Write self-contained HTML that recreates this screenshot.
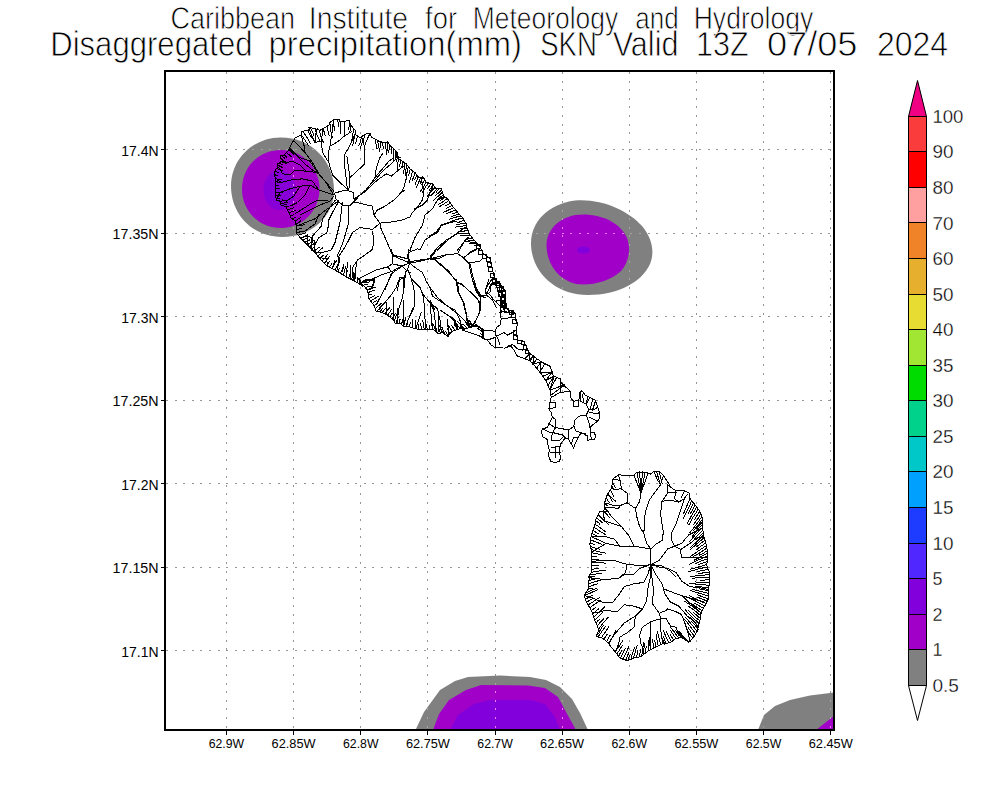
<!DOCTYPE html>
<html lang="en">
<head>
<meta charset="utf-8">
<title>Disaggregated precipitation(mm) SKN</title>
<style>
html,body{margin:0;padding:0;background:#fff;}
body{width:1000px;height:800px;overflow:hidden;}
svg{display:block;}
text{font-family:"Liberation Sans",sans-serif;fill:#000;}
.thin{stroke:#fff;stroke-width:0.8px;paint-order:fill stroke;}
.thin2{stroke:#fff;stroke-width:0.3px;paint-order:fill stroke;}
.isl{fill:none;stroke:#000;stroke-width:1;stroke-linejoin:miter;stroke-linecap:square;shape-rendering:crispEdges;}
.grid{stroke:#969696;stroke-width:1;stroke-dasharray:2 6.6;fill:none;shape-rendering:crispEdges;}
</style>
</head>
<body>
<svg width="1000" height="800" viewBox="0 0 1000 800">
<rect x="0" y="0" width="1000" height="800" fill="#fff"/>
<g id="shade">
<path fill="#808080" d="M231 186 C231 160 252 138 280 137.5 C310 137 334 160 334 190 C334 216 312 237 282 237 C252 237 231 214 231 186Z"/>
<path fill="#808080" d="M531 243 C531 222 548 204 575 200.5 C600 198 628 210 642 226 C652 238 655 252 650 264 C642 282 618 295 588 295 C555 295 531 272 531 243Z"/>
<path fill="#808080" d="M415.5 730 L424 712 L440 690 L455 681 L468 677 L500 675.5 L530 677 L546 680 L560 687 L572 699 L580 713 L588 730Z"/>
<path fill="#808080" d="M758 730 L764 715 L775 706 L790 700 L810 695.5 L834 692.5 L834 730Z"/>
<path fill="#a000c8" d="M242 189 C242 166 260 150 281 150 C302 150 319.5 167 319.5 189 C319.5 211 302 228 281 228 C259 228 242 211 242 189Z"/>
<path fill="#a000c8" d="M546.5 245 C546.5 228 562 214.5 583 214.5 C604 214.5 621 224 627 238 C631 249 629 262 621 271 C611 280 597 284.5 583 284.5 C562 284.5 546.5 266 546.5 245Z"/>
<path fill="#a000c8" d="M433 730 L439 714 L449 700 L466 690 L481 685 L528 685.5 L545 688 L558 697 L566 712 L576 730Z"/>
<path fill="#a000c8" d="M816 730 L834 716 L834 730Z"/>
<path fill="#8200dc" d="M450 730 L458 715 L474 704 L490 700 L530 700 L545 704 L555 717 L560 730Z"/>
<ellipse cx="279.5" cy="190" rx="16" ry="20" fill="#8200dc" opacity="0.8"/>
<ellipse cx="583.5" cy="250" rx="6.5" ry="3.5" fill="#8200dc"/>
</g>
<defs><clipPath id="cg"><path d="M231 186 C231 160 252 138 280 137.5 C310 137 334 160 334 190 C334 216 312 237 282 237 C252 237 231 214 231 186Z"/><path d="M531 243 C531 222 548 204 575 200.5 C600 198 628 210 642 226 C652 238 655 252 650 264 C642 282 618 295 588 295 C555 295 531 272 531 243Z"/><path d="M415.5 730 L424 712 L440 690 L455 681 L468 677 L500 675.5 L530 677 L546 680 L560 687 L572 699 L580 713 L588 730Z"/><path d="M758 730 L764 715 L775 706 L790 700 L810 695.5 L834 692.5 L834 730Z"/></clipPath><clipPath id="cp"><path d="M242 189 C242 166 260 150 281 150 C302 150 319.5 167 319.5 189 C319.5 211 302 228 281 228 C259 228 242 211 242 189Z"/><path d="M546.5 245 C546.5 228 562 214.5 583 214.5 C604 214.5 621 224 627 238 C631 249 629 262 621 271 C611 280 597 284.5 583 284.5 C562 284.5 546.5 266 546.5 245Z"/><path d="M433 730 L439 714 L449 700 L466 690 L481 685 L528 685.5 L545 688 L558 697 L566 712 L576 730Z"/><path d="M816 730 L834 716 L834 730Z"/></clipPath></defs>
<g id="grid" class="grid">
<line x1="830.5" y1="72.0" x2="830.5" y2="729.0"/>
<line x1="763.5" y1="72.0" x2="763.5" y2="729.0"/>
<line x1="696.5" y1="72.0" x2="696.5" y2="729.0"/>
<line x1="629.5" y1="72.0" x2="629.5" y2="729.0"/>
<line x1="562.5" y1="72.0" x2="562.5" y2="729.0"/>
<line x1="495.5" y1="72.0" x2="495.5" y2="729.0"/>
<line x1="427.5" y1="72.0" x2="427.5" y2="729.0"/>
<line x1="360.5" y1="72.0" x2="360.5" y2="729.0"/>
<line x1="293.5" y1="72.0" x2="293.5" y2="729.0"/>
<line x1="226.5" y1="72.0" x2="226.5" y2="729.0"/>
<line x1="166.0" y1="149.5" x2="833.0" y2="149.5"/>
<line x1="166.0" y1="233.5" x2="833.0" y2="233.5"/>
<line x1="166.0" y1="316.5" x2="833.0" y2="316.5"/>
<line x1="166.0" y1="400.5" x2="833.0" y2="400.5"/>
<line x1="166.0" y1="483.5" x2="833.0" y2="483.5"/>
<line x1="166.0" y1="567.5" x2="833.0" y2="567.5"/>
<line x1="166.0" y1="650.5" x2="833.0" y2="650.5"/>
</g>
<g class="grid" style="stroke:#a4a4a4" clip-path="url(#cg)">
<line x1="629.5" y1="72.0" x2="629.5" y2="729.0"/>
<line x1="562.5" y1="72.0" x2="562.5" y2="729.0"/>
<line x1="495.5" y1="72.0" x2="495.5" y2="729.0"/>
<line x1="427.5" y1="72.0" x2="427.5" y2="729.0"/>
<line x1="293.5" y1="72.0" x2="293.5" y2="729.0"/>
<line x1="830.5" y1="72.0" x2="830.5" y2="729.0"/>
<line x1="166.0" y1="149.5" x2="833.0" y2="149.5"/>
<line x1="166.0" y1="233.5" x2="833.0" y2="233.5"/>
</g>
<g class="grid" style="stroke:#f07cff" clip-path="url(#cp)">
<line x1="629.5" y1="72.0" x2="629.5" y2="729.0"/>
<line x1="562.5" y1="72.0" x2="562.5" y2="729.0"/>
<line x1="495.5" y1="72.0" x2="495.5" y2="729.0"/>
<line x1="427.5" y1="72.0" x2="427.5" y2="729.0"/>
<line x1="293.5" y1="72.0" x2="293.5" y2="729.0"/>
<line x1="830.5" y1="72.0" x2="830.5" y2="729.0"/>
<line x1="166.0" y1="149.5" x2="833.0" y2="149.5"/>
<line x1="166.0" y1="233.5" x2="833.0" y2="233.5"/>
</g>
<g id="islands" class="isl">
<path d="M289.5 148.0 L293.5 140.5 L295.5 137.5 L301.5 135.0 L302.0 131.5 L308.5 130.0 L309.5 127.5 L314.5 128.5 L320.0 130.5 L322.0 129.0 L326.0 127.0 L329.0 125.0 L330.0 122.5 L334.0 119.5 L339.5 119.5 L340.0 122.0 L346.0 121.0 L349.5 120.5 L350.5 125.0 L355.0 130.0 L356.0 135.0 L360.0 137.5 L361.2 136.9 L366.2 133.8 L370.6 133.8 L371.2 137.5 L375.0 138.8 L378.8 141.2 L385.0 143.1 L387.5 141.9 L390.0 145.6 L393.8 148.8 L396.9 151.9 L398.8 158.8 L406.2 163.8 L410.0 168.8 L415.0 172.5 L418.8 177.5 L423.1 176.9 L426.2 182.5 L432.5 183.8 L436.2 188.8 L441.2 188.1 L443.8 196.2 L447.5 198.8 L452.5 206.2 L458.8 213.8 L462.5 217.5 L466.2 223.8 L467.5 230.0 L470.0 235.0 L475.0 241.2 L480.0 246.2 L482.5 252.5 L490.0 258.8 L491.2 265.0 L493.8 275.0 L496.2 281.2 L502.5 286.2 L505.0 291.2 L505.0 300.0 L503.8 310.0 L495.0 280.0 L500.0 285.0 L505.0 291.2 L505.0 302.5 L506.2 308.8 L515.0 312.5 L515.6 320.0 L517.5 322.5 L516.2 332.5 L517.5 340.0 L523.8 341.2 L526.2 346.2 L528.8 352.5 L535.0 357.5 L542.5 362.5 L550.0 366.2 L552.5 372.5 L553.8 380.0 L553.8 376.2 L560.0 378.8 L561.2 382.5 L566.2 387.5 L570.0 391.2 L571.2 398.8 L573.8 401.2 L578.8 400.0 L580.0 392.5 L581.9 390.6 L585.0 395.0 L590.0 397.5 L595.0 400.0 L597.5 406.2 L599.4 412.5 L600.0 417.5 L597.5 421.2 L592.5 425.0 L590.0 427.5 L589.8 426.1 L590.7 432.4 L594.3 432.9 L595.7 436.0 L594.3 439.6 L588.0 440.1 L587.1 436.0 L582.6 433.3 L579.9 434.2 L578.1 437.8 L575.4 443.2 L573.6 447.7 L570.9 443.2 L568.2 438.7 L564.6 438.7 L561.9 442.3 L560.1 445.0 L559.7 454.0 L561.0 457.6 L559.2 461.2 L554.7 462.6 L550.7 461.2 L548.4 455.8 L549.3 450.4 L548.0 445.0 L547.5 439.6 L543.0 436.9 L541.2 431.5 L542.5 428.8 L547.5 427.5 L548.8 423.8 L552.5 417.5 L551.2 412.5 L548.8 408.8 L550.0 402.5 L551.2 397.5 L550.0 390.0 L546.2 381.2 L541.2 373.8 L535.0 366.2 L528.8 360.0 L530.0 360.6 L525.0 358.8 L517.5 356.2 L513.8 350.0 L510.0 345.0 L505.0 348.1 L495.0 347.5 L491.2 345.0 L487.5 340.0 L481.9 338.1 L482.5 335.0 L481.2 328.1 L475.0 326.2 L467.5 328.1 L462.5 330.0 L483.8 337.5 L482.5 330.0 L478.8 326.2 L472.5 325.6 L467.5 328.1 L460.0 328.8 L452.5 331.2 L447.5 336.2 L442.5 332.5 L437.5 333.8 L433.8 330.0 L427.5 329.4 L421.2 329.4 L415.0 328.8 L410.0 326.9 L403.8 326.2 L400.0 323.1 L395.0 323.1 L393.8 320.0 L388.8 316.2 L382.5 312.5 L376.2 311.2 L373.8 305.0 L368.8 298.8 L367.5 290.0 L361.2 283.1 L362.5 286.2 L355.0 281.2 L345.0 276.2 L335.0 270.0 L327.5 266.2 L320.0 258.8 L313.8 251.2 L307.5 245.0 L301.2 238.8 L296.9 233.8 L296.2 226.2 L296.5 226.3 L295.0 220.8 L291.0 218.0 L289.0 212.5 L285.5 206.3 L280.7 205.0 L280.0 201.5 L276.6 200.0 L275.2 194.6 L275.5 187.0 L276.0 183.0 L275.0 177.0 L274.5 172.5 L275.5 169.5 L278.0 167.0 L277.5 164.0 L279.5 163.0 L283.0 160.0 L280.5 158.0 L281.0 155.0 L284.0 155.0 L289.0 150.0 L289.5 148.0"/>
<path d="M334.4 193.1 L346.2 190.0 L353.1 192.5 L354.4 201.2 L350.0 205.6 L342.5 205.0 L336.2 199.4 L334.4 193.1"/>
<path d="M588.5 577.0 L592.0 571.4 L591.3 561.6 L592.0 551.8 L589.9 544.8 L591.3 535.0 L594.8 525.2 L596.2 518.2 L599.7 511.9 L603.9 511.2 L604.6 502.8 L607.4 494.4 L611.6 488.1 L613.0 479.0 L618.6 474.8 L625.6 475.5 L634.0 475.5 L636.8 472.0 L645.2 472.0 L650.8 474.1 L653.6 471.3 L659.2 471.3 L663.4 475.5 L667.6 481.8 L671.1 487.4 L676.0 490.9 L684.4 490.9 L689.3 493.0 L690.0 498.6 L695.6 505.6 L699.8 511.2 L702.6 518.2 L702.6 528.0 L704.0 537.8 L706.8 546.2 L707.5 556.0 L706.8 565.8 L709.6 572.8 L709.6 576.8 L708.9 588.0 L708.9 597.8 L705.4 604.8 L701.2 611.8 L699.8 621.6 L697.0 631.4 L692.8 638.4 L688.6 641.9 L681.6 637.7 L676.0 638.4 L670.4 642.6 L662.0 644.0 L656.4 646.8 L648.0 651.0 L641.0 656.6 L634.0 658.0 L627.0 660.8 L620.0 658.0 L614.4 651.0 L608.8 644.0 L603.2 638.4 L596.2 636.3 L599.0 630.0 L594.8 620.2 L592.0 611.8 L586.4 602.0 L584.3 595.7 L588.5 588.0 L589.2 576.8 L588.5 577.0"/>
<path d="M354.1 201.9 L372.5 206.2 L373.8 215.0 L380.0 223.1"/>
<path d="M380.0 223.1 L392.5 221.9 L402.5 220.0 L410.0 216.9"/>
<path d="M380.0 223.1 L372.5 229.4 L368.8 228.8 L360.0 227.5 L352.5 232.5 L347.5 242.5 L343.8 248.8 L338.8 256.2 L340.0 262.5"/>
<path d="M372.5 231.2 L373.8 240.0 L372.5 249.4 L365.0 255.0 L357.5 260.0 L352.5 267.5 L353.8 280.0"/>
<path d="M380.0 223.1 L380.0 226.2 L385.0 237.5 L388.8 246.2 L392.5 255.0 L402.5 257.5 L410.0 259.4"/>
<path d="M392.5 255.0 L392.5 263.8 L387.5 266.9 L376.2 270.0 L366.2 275.0 L358.8 278.8 L360.0 283.8"/>
<path d="M373.8 215.0 L377.5 210.0 L385.0 206.2 L393.8 200.0 L401.2 192.5 L405.0 190.0"/>
<path d="M354.1 201.9 L360.0 195.0 L365.0 190.0"/>
<path d="M348.8 206.2 L348.8 222.5 L346.2 231.2 L343.8 240.0 L340.0 250.0 L337.5 255.0 L338.8 260.0"/>
<path d="M342.5 202.5 L341.2 212.5 L340.0 222.5 L337.5 232.5 L335.0 242.5 L331.2 250.0 L322.5 252.5 L315.0 251.9"/>
<path d="M338.8 201.2 L332.5 212.5 L328.8 220.0 L327.5 232.5 L318.8 237.5 L315.0 245.0 L314.4 251.2"/>
<path d="M335.0 200.6 L328.8 208.8 L322.5 218.8 L321.2 226.2 L312.5 236.2 L311.9 245.0"/>
<path d="M296.2 226.2 L315.0 218.8 L322.5 212.5 L331.2 206.2 L338.8 200.6"/>
<path d="M296.9 232.5 L305.0 231.2 L315.0 223.8 L318.8 215.0"/>
<path d="M301.2 238.8 L303.8 236.9 L307.5 236.2 L311.9 237.5 L311.9 250.0"/>
<path d="M307.5 236.2 L308.1 245.0"/>
<path d="M311.9 240.0 L315.0 241.2 L314.4 251.2"/>
<path d="M322.5 258.8 L326.2 258.1 L327.5 265.0"/>
<path d="M335.0 260.0 L332.5 268.1"/>
<path d="M338.8 260.0 L337.5 270.0"/>
<path d="M343.8 265.0 L342.5 271.2"/>
<path d="M347.5 262.5 L346.2 276.2"/>
<path d="M350.0 265.0 L350.0 278.1"/>
<path d="M356.9 261.2 L353.8 280.0"/>
<path d="M315.0 251.9 L320.0 258.8"/>
<path d="M360.0 283.8 L365.0 280.0 L375.0 279.4 L372.5 285.0 L370.0 290.0"/>
<path d="M387.5 266.9 L392.5 272.5 L388.8 280.0 L385.0 290.0"/>
<path d="M392.5 263.8 L402.5 266.2 L406.2 270.0 L405.0 277.5 L403.8 290.0"/>
<path d="M406.2 270.0 L410.0 272.5"/>
<path d="M397.5 290.0 L400.0 277.5 L405.0 277.5"/>
<path d="M410.0 263.1 L401.2 266.2 L392.5 271.2 L381.2 275.0 L370.0 280.0 L361.2 283.1"/>
<path d="M410.0 263.1 L393.8 256.2 L391.2 250.0"/>
<path d="M410.0 263.1 L407.5 256.2 L408.8 250.0"/>
<path d="M410.0 263.1 L420.0 261.2 L430.0 258.8 L447.5 254.4 L457.5 253.8 L463.8 257.5 L470.0 263.8 L472.5 275.0 L476.2 287.5 L481.2 296.2 L485.0 297.5"/>
<path d="M410.0 263.1 L415.0 267.5 L422.5 272.5 L426.2 281.2 L430.0 287.5 L432.5 296.2 L440.0 301.2 L450.0 307.5 L458.8 315.0 L466.2 322.5 L468.8 325.0"/>
<path d="M410.0 263.1 L407.5 268.8 L410.0 275.0 L413.8 287.5 L415.0 300.0 L413.8 308.8 L407.5 321.2 L406.2 325.0"/>
<path d="M407.5 268.8 L403.8 277.5 L403.8 287.5 L402.5 297.5 L398.8 308.8 L397.5 318.8"/>
<path d="M402.5 266.2 L391.2 273.8 L386.2 286.2 L378.8 300.0 L376.2 305.0"/>
<path d="M403.8 277.5 L398.8 280.0 L396.2 287.5 L391.2 295.0 L385.0 302.5 L380.0 307.5"/>
<path d="M412.5 280.0 L420.0 287.5 L422.5 293.8 L423.8 300.0 L425.0 318.8 L425.0 328.8"/>
<path d="M422.5 293.8 L430.0 302.5 L433.8 310.0 L435.0 320.0 L436.2 330.0"/>
<path d="M427.5 300.0 L437.5 308.8 L440.0 320.0 L441.2 331.2"/>
<path d="M440.0 310.0 L447.5 315.0 L453.8 320.0 L455.0 326.2"/>
<path d="M435.0 260.0 L445.0 268.8 L451.2 275.0 L457.5 282.5 L463.8 286.2 L472.5 293.8 L478.8 301.2 L480.0 311.2 L476.2 320.0 L472.5 325.0"/>
<path d="M457.5 282.5 L458.8 292.5 L463.8 302.5 L466.2 312.5 L467.5 323.8"/>
<path d="M361.2 283.1 L366.2 280.0 L375.0 280.0 L372.5 287.5 L367.5 290.0"/>
<path d="M386.9 302.5 L386.9 313.8"/>
<path d="M393.1 297.5 L393.8 320.0"/>
<path d="M397.5 308.8 L397.5 322.5"/>
<path d="M403.8 300.0 L403.8 325.0"/>
<path d="M412.5 308.8 L406.2 325.0"/>
<path d="M421.2 312.5 L416.2 327.5"/>
<path d="M430.0 305.0 L432.5 327.5"/>
<path d="M438.8 312.5 L438.8 331.2"/>
<path d="M447.5 320.0 L448.8 336.2"/>
<path d="M453.8 320.0 L456.2 326.2"/>
<path d="M460.0 320.0 L460.0 328.8"/>
<path d="M463.8 257.5 L468.8 253.8 L476.2 250.0"/>
<path d="M430.0 258.8 L433.8 253.8 L436.2 250.0"/>
<path d="M430.0 235.6 L436.2 231.9 L441.2 225.6 L455.0 221.2 L462.5 223.8"/>
<path d="M430.0 256.9 L437.5 247.5 L446.2 240.0 L453.8 236.2 L458.8 231.9 L466.2 230.6"/>
<path d="M430.0 259.4 L440.0 258.1 L447.5 254.4 L457.5 253.8 L464.4 241.2 L467.5 238.1"/>
<path d="M457.5 253.8 L463.8 258.1 L471.2 251.2 L477.5 248.8 L480.0 250.0"/>
<path d="M463.8 258.1 L468.8 263.1 L480.0 261.2 L481.2 259.4"/>
<path d="M468.8 263.1 L471.2 275.0 L476.2 291.2 L480.0 296.9 L486.2 295.0 L485.0 290.0 L492.5 278.1"/>
<path d="M430.0 259.4 L435.0 259.4 L448.8 271.2 L456.9 282.5 L458.1 292.5 L463.1 302.5 L465.0 310.0"/>
<path d="M456.9 282.5 L461.2 283.8 L476.2 297.5 L480.0 302.5 L480.0 310.0"/>
<path d="M486.2 295.0 L492.5 300.0 L496.2 307.5"/>
<path d="M490.0 292.5 L491.2 285.0 L497.5 283.8"/>
<path d="M495.0 301.2 L503.8 300.0"/>
<path d="M430.0 287.5 L437.5 297.5 L446.2 305.0 L452.5 310.0"/>
<path d="M430.0 300.0 L435.0 310.0"/>
<path d="M456.2 280.0 L457.5 290.0 L463.8 302.5 L466.2 315.0 L468.8 323.8 L470.0 326.2"/>
<path d="M472.5 280.0 L475.0 287.5 L480.0 296.2 L480.0 311.2 L475.0 322.5 L472.5 326.2"/>
<path d="M480.0 296.2 L486.2 295.0 L491.2 283.8 L495.0 282.5"/>
<path d="M488.8 280.0 L485.0 291.2 L490.0 295.0 L495.0 301.2 L500.0 306.2 L503.8 306.2"/>
<path d="M495.0 301.2 L505.0 300.0"/>
<path d="M500.0 306.2 L500.0 315.0 L501.2 318.8 L500.0 325.0 L496.2 327.5 L495.0 335.0 L497.5 337.5 L500.0 345.0"/>
<path d="M501.2 318.8 L512.5 317.5"/>
<path d="M495.0 331.2 L483.8 330.0 L481.2 328.1"/>
<path d="M496.2 336.2 L503.8 332.5 L507.5 335.0 L515.0 331.2"/>
<path d="M483.8 330.0 L483.8 337.5"/>
<path d="M487.5 340.0 L495.0 337.5 L495.0 347.5"/>
<path d="M507.5 347.5 L512.5 344.4 L517.5 348.8 L522.5 350.0"/>
<path d="M450.0 307.5 L455.0 310.0 L458.8 317.5 L461.2 325.0 L462.5 330.0"/>
<path d="M450.0 316.2 L455.0 320.0 L457.5 327.5"/>
<path d="M500.0 312.5 L506.2 311.2"/>
<path d="M500.0 310.0 L505.0 312.5 L512.5 312.5"/>
<path d="M354.4 198.8 L363.8 192.5 L370.0 185.0 L375.0 177.5 L376.2 168.8 L380.0 157.5 L382.5 153.8"/>
<path d="M363.8 192.5 L377.5 180.0 L386.2 173.8 L391.2 176.2 L400.0 168.8 L403.8 166.2"/>
<path d="M375.0 177.5 L382.5 168.8 L388.8 161.2 L393.8 157.5"/>
<path d="M401.2 192.5 L403.8 187.5 L406.2 178.8 L407.5 168.8 L408.8 166.2"/>
<path d="M410.0 216.9 L412.5 212.5 L418.8 205.0 L422.5 200.0 L423.8 192.5 L422.5 185.0 L421.2 178.8"/>
<path d="M415.0 208.8 L422.5 205.0 L427.5 200.0 L430.0 192.5 L432.5 187.5"/>
<path d="M410.0 250.0 L415.0 237.5 L422.5 225.0 L425.0 215.0 L432.5 208.8 L437.5 200.0 L442.5 197.5"/>
<path d="M420.0 250.0 L425.0 240.0 L432.5 235.0 L437.5 232.5 L441.2 225.0 L448.8 222.5 L455.0 220.0"/>
<path d="M437.5 250.0 L445.0 242.5 L452.5 236.2 L460.0 231.2 L465.0 227.5"/>
<path d="M457.5 250.0 L463.8 242.5 L468.8 237.5"/>
<path d="M346.9 188.8 L340.0 182.5 L332.5 175.0 L328.8 162.5 L328.8 151.2 L330.0 146.2 L331.2 137.5 L332.5 130.0 L333.1 122.5"/>
<path d="M330.0 146.2 L337.5 141.9 L345.0 135.6 L351.2 131.9"/>
<path d="M347.5 190.0 L345.0 168.8 L344.4 155.0 L348.8 147.5 L352.5 140.0 L355.0 133.8"/>
<path d="M346.9 156.2 L350.0 177.5 L365.0 163.8 L364.4 146.2 L362.5 138.8 L361.2 137.5"/>
<path d="M350.0 177.5 L348.8 190.0"/>
<path d="M367.5 187.5 L375.0 180.0 L383.8 170.0 L391.2 163.8 L395.0 160.0 L400.0 157.5"/>
<path d="M289.5 148.0 L297.5 156.2 L306.2 165.0 L312.5 170.0 L318.8 173.8 L326.2 182.5 L333.8 191.2"/>
<path d="M293.8 140.6 L305.0 152.5 L304.4 146.9 L301.9 137.5 L301.2 131.9"/>
<path d="M305.0 152.5 L312.5 162.5 L318.8 173.8"/>
<path d="M328.8 162.5 L322.5 152.5 L321.2 141.2 L323.1 128.8"/>
<path d="M321.2 141.2 L315.0 142.5 L311.2 135.0 L308.8 127.5"/>
<path d="M315.0 142.5 L316.2 131.2 L318.1 128.1"/>
<path d="M333.8 195.0 L318.8 190.0 L310.0 185.0 L300.0 186.2 L290.0 188.8 L280.0 192.5 L276.2 200.0"/>
<path d="M318.8 190.0 L312.5 181.2 L302.5 178.8 L291.2 180.0 L281.2 182.5 L277.5 180.0"/>
<path d="M333.8 195.0 L325.0 181.2 L317.5 172.5 L306.2 171.2 L295.0 170.0 L290.0 175.0 L282.5 173.8 L278.8 167.5"/>
<path d="M317.5 172.5 L310.0 161.2 L300.0 157.5 L292.5 152.5 L288.8 149.4"/>
<path d="M306.2 171.2 L300.0 165.0 L292.5 161.2 L286.2 162.5 L280.6 161.9"/>
<path d="M333.8 196.2 L330.0 201.2 L320.0 205.0 L310.0 210.0 L300.0 215.0"/>
<path d="M330.0 201.2 L318.8 200.0 L312.5 202.5 L305.0 207.5 L295.0 213.8"/>
<path d="M310.0 185.0 L305.0 195.0 L297.5 202.5 L290.0 206.2"/>
<path d="M300.0 186.2 L293.8 196.2 L286.2 201.2 L282.5 200.0"/>
<path d="M408.0 262.0 L408.8 250.0 L410.0 250.0"/>
<path d="M408.8 252.5 L417.5 248.8 L420.0 250.0"/>
<path d="M408.0 262.0 L430.0 258.5 L435.0 259.4"/>
<path d="M430.0 258.5 L430.0 256.9"/>
<path d="M650.8 564.5 L650.1 551.8 L650.8 549.0 L646.6 543.4 L643.8 533.6 L639.6 526.6 L636.8 516.8 L635.4 508.4 L639.6 501.4 L641.0 493.0 L642.4 483.2"/>
<path d="M635.4 508.4 L627.0 502.8 L627.0 493.0 L621.4 488.8 L620.0 480.4 L618.6 475.5"/>
<path d="M627.0 502.8 L620.0 505.6 L618.6 508.4 L604.6 507.0"/>
<path d="M621.4 488.8 L614.4 489.5 L611.6 488.1"/>
<path d="M650.8 549.0 L634.0 546.2 L620.0 546.2 L606.0 543.4 L594.8 550.4 L592.0 551.8"/>
<path d="M634.0 546.2 L628.4 535.0 L621.4 526.6 L613.0 518.2 L607.4 511.2 L603.9 511.2"/>
<path d="M620.0 546.2 L614.4 539.2 L604.6 536.4 L591.3 536.4"/>
<path d="M621.4 526.6 L613.0 523.8 L604.6 521.0 L603.2 512.6"/>
<path d="M650.8 549.0 L655.0 544.8 L662.0 540.6 L663.4 532.2 L662.0 523.8 L660.6 514.0 L662.0 501.4 L669.0 500.0 L678.8 502.1 L684.4 498.6 L687.2 494.4"/>
<path d="M662.0 501.4 L667.6 493.0 L667.6 484.6"/>
<path d="M667.6 493.0 L676.0 492.3"/>
<path d="M643.8 533.6 L645.2 512.6 L649.4 500.0 L656.4 490.2 L660.6 484.6 L663.4 475.5"/>
<path d="M650.8 564.5 L659.2 560.2 L667.6 549.0 L674.6 546.2 L680.2 549.0 L681.6 557.4 L706.8 557.4"/>
<path d="M674.6 546.2 L671.8 540.6 L671.8 532.2 L676.0 523.8 L680.2 511.2 L684.4 498.6"/>
<path d="M674.6 546.2 L681.6 543.4 L688.6 535.0 L697.0 530.8 L702.6 528.0"/>
<path d="M681.6 549.0 L690.0 543.4 L697.0 537.8 L704.0 537.8"/>
<path d="M650.8 564.5 L662.0 565.8 L670.4 571.4 L676.0 577.0"/>
<path d="M650.8 564.5 L643.8 565.8 L627.0 564.4 L613.0 560.2 L600.4 560.2 L592.0 561.6"/>
<path d="M627.0 564.4 L625.6 572.8 L620.0 577.0"/>
<path d="M650.8 564.5 L639.6 568.4 L634.0 574.0 L625.6 574.0 L618.6 578.2 L606.0 579.6 L592.0 578.2 L589.2 576.8"/>
<path d="M650.8 564.5 L648.0 574.0 L643.8 582.4 L634.0 583.8 L624.2 586.6 L618.6 595.0 L613.0 602.0 L601.8 602.0 L592.0 597.8 L586.4 596.4"/>
<path d="M650.8 564.5 L650.1 578.2 L648.0 588.0 L646.6 600.6 L642.4 609.0 L635.4 616.0 L624.2 623.0 L615.8 632.8 L608.8 642.6"/>
<path d="M624.2 604.8 L617.2 611.8 L606.0 610.4 L593.4 613.2"/>
<path d="M642.4 609.0 L634.0 606.2 L624.2 604.8"/>
<path d="M635.4 616.0 L634.0 627.2 L627.0 632.8 L620.0 637.0 L618.6 644.0 L615.8 651.0"/>
<path d="M650.8 564.5 L652.2 579.6 L653.6 590.8 L652.2 603.4 L659.2 613.2 L660.6 618.8 L650.8 621.6 L642.4 627.2 L639.6 635.6 L641.0 644.0 L643.8 649.6"/>
<path d="M660.6 618.8 L660.6 630.0 L662.0 638.4 L664.8 644.0"/>
<path d="M650.8 621.6 L650.1 635.6 L649.4 645.4"/>
<path d="M660.6 618.8 L666.2 618.8 L670.4 625.8 L676.0 627.2 L678.8 635.6"/>
<path d="M659.2 613.2 L666.2 610.4 L667.6 609.0 L676.0 611.8 L681.6 614.6 L684.4 621.6 L687.2 630.0 L690.0 641.2"/>
<path d="M650.8 564.5 L656.4 575.4 L662.0 583.8 L664.8 593.6 L670.4 602.0 L678.8 606.2 L687.2 616.0 L695.6 623.0 L698.4 630.0"/>
<path d="M650.8 564.5 L659.2 567.0 L667.6 568.4 L676.0 572.6 L681.6 581.0 L690.0 586.6 L701.2 588.0 L708.2 589.4"/>
<path d="M664.8 589.4 L676.0 593.6 L684.4 596.4 L694.2 599.2 L704.0 602.0"/>
<path d="M683.0 596.4 L690.0 603.4 L698.4 610.4 L701.2 613.2"/>
<path d="M690.0 498.6 L686.8 506.0 L683.6 513.4"/>
<path d="M691.7 500.7 L688.1 509.1 L683.5 518.4"/>
<path d="M693.4 502.8 L691.4 507.5 L688.2 513.2"/>
<path d="M695.1 504.9 L692.7 509.4 L690.2 514.0"/>
<path d="M696.7 507.1 L691.6 515.5 L687.5 523.1"/>
<path d="M698.3 509.2 L693.1 517.2 L689.1 524.3"/>
<path d="M699.9 511.4 L697.0 515.5 L694.6 519.5"/>
<path d="M700.9 513.9 L697.8 518.9 L693.7 524.2"/>
<path d="M701.9 516.4 L696.7 524.1 L690.1 532.4"/>
<path d="M702.6 519.0 L698.3 524.9 L693.3 530.9"/>
<path d="M702.6 521.7 L699.3 525.2 L696.9 528.7"/>
<path d="M702.6 524.4 L696.8 530.2 L692.6 536.0"/>
<path d="M702.6 527.1 L695.6 534.5 L689.4 541.8"/>
<path d="M702.9 529.8 L698.9 534.2 L694.4 538.7"/>
<path d="M703.2 532.5 L700.5 535.8 L696.3 539.3"/>
<path d="M703.6 535.1 L697.6 541.1 L690.5 547.3"/>
<path d="M704.0 537.8 L696.8 543.8 L690.1 549.8"/>
<path d="M704.9 540.4 L700.2 543.7 L696.9 546.6"/>
<path d="M705.7 542.9 L700.4 546.6 L696.2 549.9"/>
<path d="M706.6 545.5 L698.5 550.9 L690.3 556.4"/>
<path d="M706.9 548.1 L700.9 552.2 L693.4 556.5"/>
<path d="M707.1 550.8 L703.8 553.0 L699.2 555.2"/>
<path d="M707.3 553.5 L700.8 556.8 L694.4 560.1"/>
<path d="M707.5 556.2 L697.7 560.3 L689.3 564.5"/>
<path d="M707.3 558.9 L700.5 561.3 L695.1 563.8"/>
<path d="M707.1 561.6 L702.6 563.2 L698.2 564.7"/>
<path d="M706.9 564.3 L699.3 566.8 L690.4 569.3"/>
<path d="M707.2 566.9 L698.8 568.9 L688.9 571.5"/>
<path d="M708.2 569.4 L703.2 570.4 L697.8 571.5"/>
<path d="M709.2 571.9 L703.3 572.9 L698.3 573.6"/>
<path d="M709.6 574.6 L699.2 575.5 L690.5 576.5"/>
<path d="M709.6 577.3 L700.9 577.7 L692.9 578.1"/>
<path d="M709.4 579.9 L705.2 580.0 L700.2 580.0"/>
<path d="M709.2 582.6 L703.2 582.4 L695.6 582.0"/>
<path d="M709.1 585.3 L699.5 584.4 L689.2 583.4"/>
<path d="M708.9 588.0 L701.7 587.0 L695.2 586.0"/>
<path d="M708.9 590.7 L703.6 589.8 L699.9 588.9"/>
<path d="M708.9 593.4 L700.4 591.4 L692.9 589.4"/>
<path d="M708.9 596.1 L699.9 593.4 L690.4 590.6"/>
<path d="M708.4 598.7 L703.8 597.2 L697.8 595.0"/>
<path d="M707.2 601.1 L702.9 599.4 L697.5 597.2"/>
<path d="M706.0 603.6 L697.4 599.6 L689.0 595.7"/>
<path d="M704.7 605.9 L696.4 601.5 L689.3 597.9"/>
<path d="M703.3 608.2 L698.7 605.5 L695.1 603.4"/>
<path d="M701.9 610.5 L696.6 607.0 L691.1 603.5"/>
<path d="M701.0 613.0 L693.6 607.3 L684.8 601.4"/>
<path d="M700.6 615.7 L695.6 611.3 L689.0 606.6"/>
<path d="M700.3 618.4 L696.9 615.5 L693.4 612.5"/>
<path d="M699.9 621.0 L693.5 615.7 L688.3 610.5"/>
<path d="M699.2 623.7 L691.5 616.5 L685.2 609.8"/>
<path d="M698.5 626.3 L694.2 621.8 L690.3 617.5"/>
<path d="M697.7 628.9 L695.0 625.2 L691.2 621.3"/>
<path d="M697.0 631.4 L691.9 624.8 L685.5 617.3"/>
<path d="M695.6 633.8 L690.4 626.7 L684.7 619.3"/>
<path d="M694.2 636.1 L691.0 631.8 L688.5 628.0"/>
<path d="M692.8 638.4 L688.8 632.9 L686.2 628.2"/>
<path d="M688.6 641.9 L684.0 636.9 L679.4 631.9"/>
<path d="M686.2 640.5 L682.1 636.8 L678.6 632.0"/>
<path d="M683.8 639.0 L681.4 637.3 L679.8 634.4"/>
<path d="M681.4 637.7 L678.3 634.1 L675.2 630.3"/>
<path d="M678.6 638.1 L674.3 631.9 L670.2 626.9"/>
<path d="M675.8 638.5 L672.8 634.0 L670.7 630.8"/>
<path d="M673.6 640.2 L671.9 637.3 L670.5 634.9"/>
<path d="M671.4 641.9 L669.0 637.1 L666.1 631.5"/>
<path d="M668.8 642.9 L666.3 637.5 L663.4 630.6"/>
<path d="M666.1 643.3 L664.8 640.2 L663.5 636.3"/>
<path d="M663.3 643.8 L662.2 639.9 L661.2 636.8"/>
<path d="M660.7 644.7 L658.8 637.5 L657.6 631.8"/>
<path d="M658.2 645.9 L656.9 639.7 L656.1 634.2"/>
<path d="M655.7 647.2 L655.4 644.4 L654.9 640.9"/>
<path d="M653.2 648.4 L653.2 644.6 L652.6 639.4"/>
<path d="M650.7 649.7 L650.8 643.1 L650.5 635.7"/>
<path d="M648.2 650.9 L648.2 645.8 L648.5 641.0"/>
<path d="M645.9 652.6 L645.7 649.0 L646.4 646.6"/>
<path d="M643.8 654.4 L644.0 648.4 L645.0 643.3"/>
<path d="M641.6 656.1 L642.7 649.5 L643.6 642.6"/>
<path d="M639.0 657.0 L639.9 653.8 L640.5 649.2"/>
<path d="M636.2 657.6 L637.2 654.9 L637.8 650.9"/>
<path d="M633.5 658.2 L635.3 652.0 L637.0 645.8"/>
<path d="M630.9 659.2 L632.6 652.7 L634.7 647.4"/>
<path d="M628.3 660.3 L629.1 656.5 L630.5 654.1"/>
<path d="M625.7 660.3 L627.3 656.2 L628.9 652.4"/>
<path d="M623.1 659.2 L625.8 653.5 L628.8 646.6"/>
<path d="M620.5 658.2 L622.6 654.2 L625.3 648.8"/>
<path d="M618.6 656.2 L619.9 653.8 L621.5 651.0"/>
<path d="M616.8 654.1 L620.0 649.2 L622.4 645.1"/>
<path d="M615.1 651.9 L619.6 645.6 L622.8 640.4"/>
<path d="M608.8 644.0 L612.2 637.6 L615.6 631.1"/>
<path d="M606.5 641.7 L607.8 639.0 L610.1 635.3"/>
<path d="M604.1 639.3 L605.2 637.2 L607.4 634.1"/>
<path d="M601.3 637.8 L605.1 632.3 L608.9 626.5"/>
<path d="M598.1 636.9 L602.1 631.1 L605.7 626.4"/>
<path d="M596.7 635.1 L599.1 633.2 L600.1 630.7"/>
<path d="M598.1 632.1 L600.8 629.0 L603.1 625.6"/>
<path d="M598.6 629.1 L602.8 623.5 L608.0 617.5"/>
<path d="M597.3 626.1 L600.0 622.4 L604.2 618.1"/>
<path d="M596.0 623.0 L597.4 621.3 L599.4 619.4"/>
<path d="M594.7 620.0 L599.0 616.1 L602.4 612.4"/>
<path d="M593.7 616.9 L599.9 611.6 L604.6 606.9"/>
<path d="M592.6 613.7 L596.1 611.0 L598.8 608.6"/>
<path d="M591.4 610.7 L593.3 609.1 L595.9 607.2"/>
<path d="M589.7 607.8 L594.4 604.4 L600.4 600.3"/>
<path d="M588.1 605.0 L593.3 601.6 L599.4 597.7"/>
<path d="M586.5 602.1 L589.3 600.5 L591.6 599.1"/>
<path d="M585.4 599.0 L589.5 597.0 L592.1 595.5"/>
<path d="M584.4 595.9 L591.5 592.5 L597.6 589.6"/>
<path d="M585.8 592.9 L590.9 590.6 L596.1 588.4"/>
<path d="M587.4 590.1 L589.1 588.8 L592.1 588.2"/>
<path d="M588.6 587.0 L592.6 585.3 L598.0 583.6"/>
<path d="M588.8 583.7 L595.9 581.5 L603.1 579.3"/>
<path d="M589.0 580.5 L593.9 579.4 L597.4 578.3"/>
<path d="M589.2 577.2 L592.5 576.7 L594.4 576.1"/>
<path d="M589.7 575.1 L595.9 574.1 L602.0 573.0"/>
<path d="M591.4 572.3 L597.8 571.1 L605.3 570.5"/>
<path d="M591.8 569.2 L594.3 569.0 L598.3 568.7"/>
<path d="M591.6 565.9 L594.8 565.8 L598.5 565.7"/>
<path d="M591.4 562.6 L599.0 562.8 L605.7 563.1"/>
<path d="M591.5 559.3 L598.2 559.9 L603.4 560.4"/>
<path d="M591.7 556.0 L594.6 556.4 L596.8 556.8"/>
<path d="M591.9 552.7 L596.0 553.6 L601.0 554.5"/>
<path d="M591.3 549.5 L597.8 551.6 L605.9 553.2"/>
<path d="M590.4 546.4 L594.5 547.9 L599.4 549.1"/>
<path d="M590.1 543.2 L592.9 544.1 L595.0 544.9"/>
<path d="M590.6 539.9 L596.8 542.2 L601.5 544.4"/>
<path d="M591.1 536.6 L598.1 539.7 L604.1 542.7"/>
<path d="M591.9 533.4 L594.8 535.0 L598.1 536.7"/>
<path d="M593.0 530.3 L595.0 531.7 L598.4 533.6"/>
<path d="M594.1 527.2 L599.3 530.8 L605.7 534.8"/>
<path d="M595.0 524.1 L600.3 527.8 L605.3 531.5"/>
<path d="M595.7 520.8 L598.5 522.7 L599.9 524.2"/>
<path d="M596.5 517.7 L600.3 520.8 L603.0 523.2"/>
<path d="M598.1 514.8 L603.5 519.9 L609.0 525.0"/>
<path d="M603.9 511.2 L606.6 514.2 L609.3 517.3"/>
<path d="M604.3 506.7 L606.2 509.8 L609.4 513.1"/>
<path d="M604.8 502.3 L605.4 503.8 L607.4 505.8"/>
<path d="M606.2 498.0 L607.6 500.2 L609.2 502.4"/>
<path d="M607.8 493.8 L610.6 497.9 L612.4 501.4"/>
<path d="M610.3 490.1 L612.6 493.6 L613.7 496.3"/>
<path d="M611.9 486.0 L613.0 487.8 L613.7 489.6"/>
<path d="M612.6 481.5 L613.5 484.4 L615.4 487.5"/>
<path d="M634.0 475.5 L641.0 493.0"/>
<path d="M636.8 472.0 L641.0 493.0"/>
<path d="M639.6 472.0 L641.0 493.0"/>
<path d="M642.4 472.0 L641.0 493.0"/>
<path d="M645.2 472.0 L641.0 493.0"/>
<path d="M648.0 473.4 L641.0 493.0"/>
<path d="M653.6 471.3 L657.8 480.4 L660.6 484.6"/>
<path d="M659.2 471.3 L662.0 483.2"/>
<path d="M656.4 471.3 L659.9 482.5"/>
<path d="M676.0 490.9 L674.6 498.6 L678.8 502.1"/>
<path d="M684.4 490.9 L681.6 497.2"/>
<path d="M671.1 487.4 L667.6 484.6"/>
<path d="M613.0 479.0 L620.0 480.4"/>
<path d="M604.6 502.8 L614.4 505.6 L620.0 505.6"/>
<path d="M607.4 494.4 L615.8 501.4"/>
<path d="M301.5 135.0 L305.0 140.2 L308.4 145.5"/>
<path d="M303.0 131.3 L306.6 136.8 L310.5 143.6"/>
<path d="M307.5 130.2 L309.3 133.3 L311.5 137.8"/>
<path d="M310.4 127.7 L312.1 131.3 L313.8 135.1"/>
<path d="M314.9 128.6 L317.3 135.8 L320.2 141.8"/>
<path d="M319.2 130.2 L321.1 137.1 L323.5 142.5"/>
<path d="M323.1 128.4 L324.2 132.2 L325.1 135.5"/>
<path d="M327.1 126.2 L327.9 130.7 L329.2 136.0"/>
<path d="M329.9 122.8 L330.4 129.9 L332.3 137.6"/>
<path d="M333.4 119.9 L333.8 125.1 L334.7 130.9"/>
<path d="M337.9 119.5 L338.1 123.4 L338.3 126.5"/>
<path d="M340.4 121.9 L340.7 128.7 L340.7 133.9"/>
<path d="M345.0 121.2 L344.7 128.9 L344.4 135.9"/>
<path d="M349.5 120.5 L349.4 124.9 L348.6 129.5"/>
<path d="M350.5 125.0 L350.6 128.3 L349.6 132.7"/>
<path d="M353.6 128.4 L352.8 134.9 L351.3 142.0"/>
<path d="M355.5 132.4 L353.9 139.1 L352.7 145.6"/>
<path d="M357.7 136.0 L356.3 140.4 L355.8 143.4"/>
<path d="M361.6 136.6 L360.5 141.6 L358.7 145.6"/>
<path d="M365.5 134.2 L362.8 141.0 L360.3 148.1"/>
<path d="M370.0 133.8 L367.6 138.3 L365.2 144.4"/>
<path d="M375.0 138.8 L376.0 143.6 L377.0 148.4"/>
<path d="M377.3 140.3 L378.8 145.4 L379.4 151.6"/>
<path d="M379.8 141.6 L380.5 144.0 L380.8 147.8"/>
<path d="M382.5 142.4 L382.9 145.2 L383.3 148.3"/>
<path d="M385.2 143.0 L386.0 149.2 L386.4 154.2"/>
<path d="M387.6 142.1 L387.4 147.6 L388.4 152.3"/>
<path d="M389.2 144.4 L389.2 147.1 L389.5 149.6"/>
<path d="M391.0 146.5 L391.5 149.8 L391.4 154.0"/>
<path d="M393.2 148.3 L393.8 153.6 L393.4 160.2"/>
<path d="M395.2 150.2 L395.4 154.2 L395.2 158.7"/>
<path d="M397.0 152.3 L396.5 154.9 L396.9 157.3"/>
<path d="M397.7 155.0 L396.8 159.9 L397.4 164.3"/>
<path d="M398.5 157.7 L397.8 163.7 L397.9 169.4"/>
<path d="M400.2 159.7 L400.1 162.8 L399.7 166.5"/>
<path d="M402.5 161.2 L402.6 163.4 L401.9 166.9"/>
<path d="M404.8 162.8 L404.4 167.8 L403.3 173.6"/>
<path d="M406.9 164.6 L405.8 170.0 L405.1 175.1"/>
<path d="M408.6 166.8 L407.4 170.0 L407.5 172.3"/>
<path d="M410.3 169.0 L409.2 172.9 L408.7 175.9"/>
<path d="M412.6 170.7 L411.1 176.3 L409.5 182.1"/>
<path d="M414.8 172.4 L413.9 176.1 L412.1 181.0"/>
<path d="M416.5 174.6 L416.2 176.5 L414.9 179.3"/>
<path d="M418.2 176.8 L416.6 180.9 L414.9 185.0"/>
<path d="M420.7 177.2 L418.3 183.3 L415.8 188.1"/>
<path d="M423.3 177.1 L421.0 180.8 L420.1 183.7"/>
<path d="M424.6 179.6 L423.3 182.0 L422.1 184.4"/>
<path d="M426.0 182.0 L423.9 186.3 L420.7 191.1"/>
<path d="M428.5 182.9 L425.6 186.8 L422.5 192.3"/>
<path d="M431.2 183.5 L429.6 185.7 L427.9 188.2"/>
<path d="M433.4 184.9 L431.0 187.9 L429.4 190.2"/>
<path d="M435.1 187.2 L430.7 192.1 L427.6 196.1"/>
<path d="M437.1 188.6 L433.9 192.5 L430.7 195.7"/>
<path d="M439.9 188.3 L438.1 189.7 L436.4 191.9"/>
<path d="M441.7 189.5 L439.4 192.1 L435.7 195.3"/>
<path d="M442.5 192.1 L438.4 196.0 L433.6 200.2"/>
<path d="M443.3 194.8 L440.0 197.4 L437.3 199.8"/>
<path d="M444.8 197.0 L442.3 199.2 L440.7 200.1"/>
<path d="M447.2 198.5 L442.8 201.8 L438.9 204.3"/>
<path d="M448.8 200.7 L444.2 203.7 L439.2 206.9"/>
<path d="M450.4 203.1 L448.4 204.2 L445.0 206.2"/>
<path d="M451.9 205.4 L449.7 206.5 L446.4 208.3"/>
<path d="M453.6 207.6 L448.4 210.1 L443.3 212.5"/>
<path d="M455.4 209.8 L450.2 212.2 L446.2 213.6"/>
<path d="M457.2 211.9 L454.3 213.3 L452.4 213.7"/>
<path d="M459.0 214.0 L455.3 215.3 L451.6 216.5"/>
<path d="M461.0 216.0 L455.7 217.2 L449.5 219.3"/>
<path d="M462.9 218.1 L459.5 218.7 L454.8 220.1"/>
<path d="M464.3 220.5 L461.9 221.0 L459.4 221.6"/>
<path d="M465.8 222.9 L460.5 224.0 L456.3 224.5"/>
<path d="M466.6 225.5 L460.1 226.5 L455.1 227.1"/>
<path d="M467.2 228.3 L463.7 228.6 L460.6 228.9"/>
<path d="M468.0 230.9 L465.5 230.9 L462.1 231.3"/>
<path d="M469.2 233.5 L464.4 233.2 L458.1 233.7"/>
<path d="M470.7 235.8 L465.7 235.6 L460.2 235.7"/>
<path d="M472.4 238.0 L469.4 238.2 L467.0 237.8"/>
<path d="M474.2 240.2 L469.9 240.5 L466.9 239.7"/>
<path d="M476.0 242.3 L469.8 242.0 L464.2 241.2"/>
<path d="M478.0 244.3 L473.9 243.5 L469.3 243.3"/>
<path d="M480.0 246.2 L478.1 245.4 L475.0 245.6"/>
<path d="M289.0 150.0 L291.3 152.3 L293.7 154.6"/>
<path d="M286.5 152.5 L289.3 154.9 L291.1 156.5"/>
<path d="M284.1 154.9 L285.8 156.4 L286.5 156.9"/>
<path d="M280.9 155.4 L282.8 156.8 L284.5 158.0"/>
<path d="M281.2 158.6 L283.7 161.0 L287.0 162.5"/>
<path d="M282.1 160.8 L283.7 161.6 L286.3 163.5"/>
<path d="M279.4 163.0 L280.6 163.6 L282.0 164.5"/>
<path d="M277.7 165.3 L280.7 166.5 L282.6 167.8"/>
<path d="M276.7 168.3 L280.4 170.3 L283.0 171.1"/>
<path d="M274.9 171.2 L277.1 172.0 L278.7 172.7"/>
<path d="M274.7 174.6 L275.9 175.2 L277.9 175.7"/>
<path d="M275.2 178.1 L277.4 179.1 L281.3 179.8"/>
<path d="M275.8 181.5 L278.4 182.3 L281.9 182.9"/>
<path d="M275.8 185.0 L277.7 185.3 L279.0 185.5"/>
<path d="M275.4 188.5 L278.3 188.7 L279.6 188.9"/>
<path d="M275.3 192.0 L279.3 192.2 L282.2 192.3"/>
<path d="M275.4 195.4 L277.9 195.5 L280.8 195.4"/>
<path d="M276.3 198.8 L277.0 198.9 L279.3 198.6"/>
<path d="M278.7 200.9 L281.0 201.2 L283.8 200.4"/>
<path d="M280.4 203.5 L284.0 203.0 L287.3 202.4"/>
<path d="M282.6 205.5 L284.9 204.4 L286.9 204.7"/>
<path d="M285.8 206.7 L287.9 206.0 L288.9 206.0"/>
<path d="M287.5 209.8 L290.4 208.9 L293.3 208.0"/>
<path d="M289.1 212.9 L291.5 211.9 L295.2 210.5"/>
<path d="M290.3 216.2 L291.2 215.7 L293.5 214.7"/>
<path d="M292.3 218.9 L293.9 218.0 L295.7 217.0"/>
<path d="M295.0 221.0 L298.5 218.9 L300.7 217.3"/>
<path d="M296.0 224.3 L299.0 222.4 L300.5 220.9"/>
<path d="M296.2 226.2 L300.6 225.5 L305.0 224.7"/>
<path d="M296.5 229.4 L299.8 228.8 L301.8 228.2"/>
<path d="M296.8 232.6 L299.6 232.0 L301.0 231.4"/>
<path d="M298.2 235.3 L302.2 234.0 L306.0 232.8"/>
<path d="M300.3 237.7 L303.7 236.7 L308.0 234.8"/>
<path d="M302.5 240.0 L304.0 239.7 L306.6 238.3"/>
<path d="M304.8 242.3 L307.1 241.3 L309.6 239.9"/>
<path d="M307.1 244.6 L311.3 242.0 L314.8 240.2"/>
<path d="M309.3 246.8 L312.9 244.4 L315.3 243.1"/>
<path d="M311.6 249.1 L313.5 247.7 L314.9 246.8"/>
<path d="M313.8 251.4 L316.1 249.6 L319.1 247.3"/>
<path d="M315.9 253.8 L318.6 251.4 L322.6 247.9"/>
<path d="M317.9 256.3 L319.7 254.5 L322.0 252.3"/>
<path d="M320.0 258.7 L321.7 257.0 L322.9 255.6"/>
<path d="M322.3 261.0 L325.3 257.4 L327.2 254.9"/>
<path d="M324.5 263.3 L327.4 259.5 L329.5 256.5"/>
<path d="M326.8 265.5 L327.9 263.7 L329.3 261.6"/>
<path d="M329.5 267.2 L330.4 265.7 L332.0 262.9"/>
<path d="M332.3 268.7 L334.0 265.3 L336.3 260.9"/>
<path d="M335.2 270.1 L336.7 266.6 L338.2 263.4"/>
<path d="M337.9 271.8 L339.0 269.3 L339.4 268.0"/>
<path d="M340.6 273.5 L341.9 270.0 L342.6 267.6"/>
<path d="M343.3 275.2 L344.5 270.9 L345.7 266.5"/>
<path d="M346.1 276.8 L346.4 274.4 L347.4 270.8"/>
<path d="M348.9 278.2 L349.0 276.8 L349.6 274.2"/>
<path d="M351.8 279.7 L352.2 276.0 L352.7 272.2"/>
<path d="M354.7 281.1 L355.3 276.2 L355.4 272.5"/>
<path d="M357.4 282.8 L357.9 279.7 L357.5 277.9"/>
<path d="M360.0 284.6 L360.1 282.0 L360.0 279.8"/>
<path d="M361.2 283.1 L365.3 282.5 L369.3 281.9"/>
<path d="M363.3 285.3 L366.0 284.5 L367.6 284.5"/>
<path d="M365.3 287.6 L368.4 286.4 L370.5 286.3"/>
<path d="M367.3 289.8 L371.6 288.4 L375.8 287.2"/>
<path d="M367.9 292.7 L370.6 291.5 L374.5 290.2"/>
<path d="M368.3 295.7 L369.4 294.9 L372.0 294.0"/>
<path d="M368.7 298.6 L371.4 297.2 L374.6 295.6"/>
<path d="M370.5 301.0 L374.8 298.4 L378.3 296.5"/>
<path d="M372.4 303.3 L375.4 301.2 L377.2 300.1"/>
<path d="M374.1 305.8 L376.1 304.4 L377.4 303.3"/>
<path d="M375.2 308.6 L377.8 306.2 L381.2 303.6"/>
<path d="M376.4 311.3 L379.3 309.2 L382.5 305.5"/>
<path d="M379.3 311.9 L380.9 310.6 L382.6 308.5"/>
<path d="M382.3 312.5 L384.0 310.2 L385.6 308.7"/>
<path d="M384.9 313.9 L387.9 309.8 L390.2 307.0"/>
<path d="M387.4 315.5 L389.8 312.0 L391.6 309.3"/>
<path d="M389.9 317.1 L390.8 315.6 L392.0 313.6"/>
<path d="M392.3 318.9 L393.3 316.8 L395.2 313.4"/>
<path d="M394.2 321.1 L395.5 317.3 L397.9 312.9"/>
<path d="M395.9 323.1 L397.0 320.2 L398.1 317.4"/>
<path d="M398.9 323.1 L399.5 320.5 L400.2 319.2"/>
<path d="M401.4 324.3 L402.8 320.2 L403.4 317.1"/>
<path d="M403.7 326.2 L404.7 322.0 L405.6 317.8"/>
<path d="M406.7 326.5 L407.0 324.8 L407.5 321.6"/>
<path d="M409.7 326.8 L409.9 325.2 L410.2 322.1"/>
<path d="M412.5 327.8 L412.7 323.7 L412.9 319.3"/>
<path d="M415.4 328.8 L415.4 324.3 L415.3 321.0"/>
<path d="M418.3 329.1 L418.3 326.2 L418.1 324.9"/>
<path d="M421.3 329.4 L421.0 326.3 L420.6 323.6"/>
<path d="M424.3 329.4 L423.6 325.5 L422.8 320.5"/>
<path d="M427.3 329.4 L426.6 327.0 L425.9 323.0"/>
<path d="M430.3 329.7 L429.7 328.0 L429.2 325.8"/>
<path d="M433.3 330.0 L432.2 326.1 L431.0 323.2"/>
<path d="M435.5 331.8 L434.6 327.1 L432.5 323.5"/>
<path d="M437.7 333.7 L436.7 330.8 L435.8 328.8"/>
<path d="M440.6 333.0 L439.8 331.2 L438.8 328.9"/>
<path d="M443.4 333.2 L441.1 330.1 L439.8 325.7"/>
<path d="M445.8 335.0 L443.6 331.8 L442.1 327.8"/>
<path d="M448.1 335.7 L446.9 333.6 L446.0 331.8"/>
<path d="M450.2 333.5 L448.3 330.6 L447.4 328.8"/>
<path d="M452.3 331.4 L449.5 327.3 L447.4 324.0"/>
<path d="M455.1 330.4 L453.1 327.7 L451.1 324.8"/>
<path d="M458.0 329.4 L457.0 328.6 L455.5 326.3"/>
<path d="M460.9 328.7 L458.7 326.8 L456.5 323.5"/>
<path d="M463.8 328.4 L460.8 325.1 L457.8 321.8"/>
<path d="M466.8 328.2 L464.8 325.5 L462.9 324.2"/>
<path d="M469.6 327.1 L467.7 325.0 L466.5 324.1"/>
<path d="M472.3 325.7 L469.2 323.0 L466.3 320.5"/>
<path d="M475.2 325.9 L472.0 323.8 L468.9 320.5"/>
<path d="M478.2 326.2 L476.4 325.5 L474.7 323.3"/>
<path d="M480.5 328.0 L478.3 326.5 L476.5 324.7"/>
<path d="M482.5 330.2 L479.7 327.3 L475.7 324.6"/>
<path d="M483.0 333.1 L481.0 330.6 L477.5 328.4"/>
<path d="M483.5 336.1 L482.3 334.7 L480.5 333.4"/>
<path d="M476.5 244.8 L480.5 244.8 L480.5 248.8 L476.5 248.8 L476.5 244.8"/>
<path d="M478.6 250.0 L482.6 250.0 L482.6 254.0 L478.6 254.0 L478.6 250.0"/>
<path d="M482.8 254.5 L486.8 254.5 L486.8 258.5 L482.8 258.5 L482.8 254.5"/>
<path d="M486.4 257.1 L490.4 257.1 L490.4 261.1 L486.4 261.1 L486.4 257.1"/>
<path d="M487.5 262.5 L491.5 262.5 L491.5 266.5 L487.5 266.5 L487.5 262.5"/>
<path d="M488.8 267.9 L492.8 267.9 L492.8 271.9 L488.8 271.9 L488.8 267.9"/>
<path d="M490.2 273.2 L494.2 273.2 L494.2 277.2 L490.2 277.2 L490.2 273.2"/>
<path d="M492.2 278.5 L496.2 278.5 L496.2 282.5 L492.2 282.5 L492.2 278.5"/>
<path d="M496.4 283.1 L500.4 283.1 L500.4 287.1 L496.4 287.1 L496.4 283.1"/>
<path d="M499.8 286.4 L503.8 286.4 L503.8 290.4 L499.8 290.4 L499.8 286.4"/>
<path d="M501.4 290.7 L505.4 290.7 L505.4 294.7 L501.4 294.7 L501.4 290.7"/>
<path d="M501.4 296.2 L505.4 296.2 L505.4 300.2 L501.4 300.2 L501.4 296.2"/>
<path d="M500.9 301.5 L504.9 301.5 L504.9 305.5 L500.9 305.5 L500.9 301.5"/>
<path d="M500.3 307.0 L504.3 307.0 L504.3 311.0 L500.3 311.0 L500.3 307.0"/>
<path d="M502.0 303.1 L506.0 303.1 L506.0 307.1 L502.0 307.1 L502.0 303.1"/>
<path d="M500.4 297.8 L504.4 297.8 L504.4 301.8 L500.4 301.8 L500.4 297.8"/>
<path d="M498.9 292.5 L502.9 292.5 L502.9 296.5 L498.9 296.5 L498.9 292.5"/>
<path d="M497.4 287.2 L501.4 287.2 L501.4 291.2 L497.4 291.2 L497.4 287.2"/>
<path d="M495.8 281.9 L499.8 281.9 L499.8 285.9 L495.8 285.9 L495.8 281.9"/>
<path d="M492.5 279.8 L496.5 279.8 L496.5 283.8 L492.5 283.8 L492.5 279.8"/>
<path d="M496.4 283.7 L500.4 283.7 L500.4 287.7 L496.4 287.7 L496.4 283.7"/>
<path d="M499.8 287.8 L503.8 287.8 L503.8 291.8 L499.8 291.8 L499.8 287.8"/>
<path d="M501.4 291.6 L505.4 291.6 L505.4 295.6 L501.4 295.6 L501.4 291.6"/>
<path d="M501.4 297.1 L505.4 297.1 L505.4 301.1 L501.4 301.1 L501.4 297.1"/>
<path d="M501.8 302.9 L505.8 302.9 L505.8 306.9 L501.8 306.9 L501.8 302.9"/>
<path d="M504.7 308.7 L508.7 308.7 L508.7 312.7 L504.7 312.7 L504.7 308.7"/>
<path d="M509.8 310.9 L513.8 310.9 L513.8 314.9 L509.8 314.9 L509.8 310.9"/>
<path d="M511.6 313.3 L515.6 313.3 L515.6 317.3 L511.6 317.3 L511.6 313.3"/>
<path d="M512.8 319.5 L516.8 319.5 L516.8 323.5 L512.8 323.5 L512.8 319.5"/>
<path d="M513.0 330.9 L516.6 330.9 L516.6 334.5 L513.0 334.5 L513.0 330.9"/>
<path d="M513.9 335.9 L517.5 335.9 L517.5 339.5 L513.9 339.5 L513.9 335.9"/>
<path d="M517.8 340.1 L521.4 340.1 L521.4 343.7 L517.8 343.7 L517.8 340.1"/>
<path d="M521.1 341.0 L524.7 341.0 L524.7 344.6 L521.1 344.6 L521.1 341.0"/>
<path d="M523.3 345.4 L526.9 345.4 L526.9 349.0 L523.3 349.0 L523.3 345.4"/>
<path d="M525.1 350.0 L528.7 350.0 L528.7 353.6 L525.1 353.6 L525.1 350.0"/>
<path d="M525.0 358.8 L529.8 353.4"/>
<path d="M529.8 360.7 L533.7 356.4"/>
<path d="M529.8 353.4 L529.8 360.7"/>
<path d="M529.4 360.6 L533.1 356.0"/>
<path d="M529.8 360.7 L533.1 356.0"/>
<path d="M533.0 364.3 L537.1 358.9"/>
<path d="M533.1 356.0 L533.0 364.3"/>
<path d="M536.6 368.1 L541.2 361.6"/>
<path d="M533.0 364.3 L541.2 361.6"/>
<path d="M539.9 372.1 L544.8 363.7"/>
<path d="M541.2 361.6 L539.9 372.1"/>
<path d="M543.0 376.3 L552.1 372.0"/>
<path d="M539.9 372.1 L552.1 372.0"/>
<path d="M545.8 380.6 L553.6 375.9"/>
<path d="M552.1 372.0 L545.8 380.6"/>
<path d="M548.0 385.3 L554.0 376.4"/>
<path d="M545.8 380.6 L554.0 376.4"/>
<path d="M550.0 390.1 L556.6 377.4"/>
<path d="M554.0 376.4 L550.0 390.1"/>
<path d="M550.9 395.3 L564.4 384.9"/>
<path d="M550.0 390.1 L564.4 384.9"/>
<path d="M552.5 417.5 L555.0 418.8 L555.6 427.5 L568.8 430.0 L573.8 426.2 L575.0 420.0 L578.8 416.2 L586.2 415.0 L588.8 410.0"/>
<path d="M573.8 426.2 L576.2 431.2 L585.0 433.8"/>
<path d="M586.2 415.0 L588.8 422.5 L590.0 427.5"/>
<path d="M568.8 430.0 L568.8 437.5"/>
<path d="M555.6 427.5 L552.5 432.5 L551.2 440.0"/>
<path d="M548.8 423.8 L555.0 427.5"/>
<path d="M542.5 428.8 L550.0 432.5 L552.5 432.5"/>
<path d="M551.2 440.0 L560.0 440.0 L563.8 436.2"/>
<path d="M552.5 432.5 L562.5 435.0 L565.0 437.5"/>
<path d="M588.8 410.0 L596.2 408.8 L597.5 406.2"/>
<path d="M588.8 410.0 L586.2 403.8 L590.0 397.5"/>
<path d="M586.2 403.8 L580.0 401.2 L580.0 392.5"/>
<path d="M590.0 412.5 L597.5 413.8 L599.4 412.5"/>
<path d="M590.0 417.5 L597.5 421.2"/>
<path d="M560.0 378.8 L560.0 392.5 L551.2 397.5"/>
<path d="M560.0 392.5 L570.0 391.2"/>
<path d="M553.8 376.2 L550.0 390.0"/>
<path d="M560.0 385.0 L566.2 387.5"/>
<path d="M550.0 402.5 L555.0 402.5 L555.0 407.5 L548.8 408.8"/>
<path d="M573.8 401.2 L573.8 406.2 L578.8 406.2 L578.8 400.0"/>
<path d="M551.2 447.5 L560.0 446.2"/>
<path d="M550.6 452.5 L560.0 452.5"/>
<path d="M555.0 446.2 L555.0 457.5"/>
<path d="M587.5 435.0 L587.5 440.0"/>
<path d="M590.6 431.9 L591.2 440.0"/>
<path d="M571.2 443.8 L573.8 437.5 L578.1 437.5"/>
<path d="M582.5 395.0 L583.8 402.5"/>
<path d="M587.5 397.5 L586.2 403.8"/>
<path d="M592.5 400.0 L590.0 410.0"/>
<path d="M595.0 402.5 L592.5 410.0"/>
</g>
<rect x="165.0" y="71.0" width="669.0" height="659.0" fill="none" stroke="#000" stroke-width="2"/>
<g stroke="#000" stroke-width="1" shape-rendering="crispEdges">
<line x1="830.5" y1="731.0" x2="830.5" y2="735.2"/>
<line x1="763.5" y1="731.0" x2="763.5" y2="735.2"/>
<line x1="696.5" y1="731.0" x2="696.5" y2="735.2"/>
<line x1="629.5" y1="731.0" x2="629.5" y2="735.2"/>
<line x1="562.5" y1="731.0" x2="562.5" y2="735.2"/>
<line x1="495.5" y1="731.0" x2="495.5" y2="735.2"/>
<line x1="427.5" y1="731.0" x2="427.5" y2="735.2"/>
<line x1="360.5" y1="731.0" x2="360.5" y2="735.2"/>
<line x1="293.5" y1="731.0" x2="293.5" y2="735.2"/>
<line x1="226.5" y1="731.0" x2="226.5" y2="735.2"/>
<line x1="161.0" y1="149.5" x2="164.0" y2="149.5"/>
<line x1="161.0" y1="233.5" x2="164.0" y2="233.5"/>
<line x1="161.0" y1="316.5" x2="164.0" y2="316.5"/>
<line x1="161.0" y1="400.5" x2="164.0" y2="400.5"/>
<line x1="161.0" y1="483.5" x2="164.0" y2="483.5"/>
<line x1="161.0" y1="567.5" x2="164.0" y2="567.5"/>
<line x1="161.0" y1="650.5" x2="164.0" y2="650.5"/>
</g>
<g font-size="13.2">
<text x="808.7" y="748" textLength="44.0" lengthAdjust="spacingAndGlyphs">62.45W</text>
<text x="745.8" y="748" textLength="35.5" lengthAdjust="spacingAndGlyphs">62.5W</text>
<text x="674.4" y="748" textLength="44.0" lengthAdjust="spacingAndGlyphs">62.55W</text>
<text x="611.5" y="748" textLength="35.5" lengthAdjust="spacingAndGlyphs">62.6W</text>
<text x="540.1" y="748" textLength="44.0" lengthAdjust="spacingAndGlyphs">62.65W</text>
<text x="477.3" y="748" textLength="35.5" lengthAdjust="spacingAndGlyphs">62.7W</text>
<text x="405.9" y="748" textLength="44.0" lengthAdjust="spacingAndGlyphs">62.75W</text>
<text x="343.0" y="748" textLength="35.5" lengthAdjust="spacingAndGlyphs">62.8W</text>
<text x="271.6" y="748" textLength="44.0" lengthAdjust="spacingAndGlyphs">62.85W</text>
<text x="208.7" y="748" textLength="35.5" lengthAdjust="spacingAndGlyphs">62.9W</text>
<text font-size="14.9" x="121.3" y="155.5" textLength="37.3" lengthAdjust="spacingAndGlyphs">17.4N</text>
<text font-size="14.9" x="112.6" y="239.0" textLength="46.0" lengthAdjust="spacingAndGlyphs">17.35N</text>
<text font-size="14.9" x="121.3" y="322.5" textLength="37.3" lengthAdjust="spacingAndGlyphs">17.3N</text>
<text font-size="14.9" x="112.6" y="406.0" textLength="46.0" lengthAdjust="spacingAndGlyphs">17.25N</text>
<text font-size="14.9" x="121.3" y="489.5" textLength="37.3" lengthAdjust="spacingAndGlyphs">17.2N</text>
<text font-size="14.9" x="112.6" y="573.0" textLength="46.0" lengthAdjust="spacingAndGlyphs">17.15N</text>
<text font-size="14.9" x="121.3" y="656.5" textLength="37.3" lengthAdjust="spacingAndGlyphs">17.1N</text>
</g>
<text class="thin" y="28.9" font-size="30.6"><tspan x="170.6" textLength="124.5" lengthAdjust="spacingAndGlyphs">Caribbean</tspan> <tspan x="308.8" textLength="99.3" lengthAdjust="spacingAndGlyphs">Institute</tspan> <tspan x="425.1" textLength="31.9" lengthAdjust="spacingAndGlyphs">for</tspan> <tspan x="472.8" textLength="145.4" lengthAdjust="spacingAndGlyphs">Meteorology</tspan> <tspan x="635.3" textLength="43.4" lengthAdjust="spacingAndGlyphs">and</tspan> <tspan x="693.7" textLength="119.5" lengthAdjust="spacingAndGlyphs">Hydrology</tspan></text>
<text class="thin" y="55.5" font-size="35.2"><tspan x="50.2" textLength="202.3" lengthAdjust="spacingAndGlyphs">Disaggregated</tspan> <tspan x="268.5" textLength="253.5" lengthAdjust="spacingAndGlyphs">precipitation(mm)</tspan> <tspan x="540.2" textLength="56.7" lengthAdjust="spacingAndGlyphs">SKN</tspan> <tspan x="612.7" textLength="65.8" lengthAdjust="spacingAndGlyphs">Valid</tspan> <tspan x="695.9" textLength="52.7" lengthAdjust="spacingAndGlyphs">13Z</tspan> <tspan x="766.9" textLength="90.6" lengthAdjust="spacingAndGlyphs">07/05</tspan> <tspan x="876.9" textLength="71.1" lengthAdjust="spacingAndGlyphs">2024</tspan></text>
<g id="cbar" stroke="#000" stroke-width="1">
<rect x="908.5" y="649.5" width="18.0" height="36.0" fill="#808080" shape-rendering="crispEdges"/>
<rect x="908.5" y="614.5" width="18.0" height="35.0" fill="#a000c8" shape-rendering="crispEdges"/>
<rect x="908.5" y="578.5" width="18.0" height="36.0" fill="#8200dc" shape-rendering="crispEdges"/>
<rect x="908.5" y="543.5" width="18.0" height="35.0" fill="#5028ff" shape-rendering="crispEdges"/>
<rect x="908.5" y="507.5" width="18.0" height="36.0" fill="#1e3cff" shape-rendering="crispEdges"/>
<rect x="908.5" y="471.5" width="18.0" height="36.0" fill="#00a0ff" shape-rendering="crispEdges"/>
<rect x="908.5" y="436.5" width="18.0" height="35.0" fill="#00c8c8" shape-rendering="crispEdges"/>
<rect x="908.5" y="400.5" width="18.0" height="36.0" fill="#00d28c" shape-rendering="crispEdges"/>
<rect x="908.5" y="365.5" width="18.0" height="35.0" fill="#00dc00" shape-rendering="crispEdges"/>
<rect x="908.5" y="329.5" width="18.0" height="36.0" fill="#a0e632" shape-rendering="crispEdges"/>
<rect x="908.5" y="294.5" width="18.0" height="35.0" fill="#e6dc32" shape-rendering="crispEdges"/>
<rect x="908.5" y="258.5" width="18.0" height="36.0" fill="#e6af2d" shape-rendering="crispEdges"/>
<rect x="908.5" y="222.5" width="18.0" height="36.0" fill="#f08228" shape-rendering="crispEdges"/>
<rect x="908.5" y="187.5" width="18.0" height="35.0" fill="#ffa0a0" shape-rendering="crispEdges"/>
<rect x="908.5" y="151.5" width="18.0" height="36.0" fill="#ff0000" shape-rendering="crispEdges"/>
<rect x="908.5" y="116.5" width="18.0" height="35.0" fill="#fa3c3c" shape-rendering="crispEdges"/>
<path d="M908.5 116.5 L917.5 80.5 L926.5 116.5 Z" fill="#f00082"/>
<path d="M908.5 685.5 L917.5 720.5 L926.5 685.5 Z" fill="#fff"/>
</g>
<g font-size="17.6" class="thin2">
<text x="932.4" y="691.8" textLength="26.5" lengthAdjust="spacingAndGlyphs">0.5</text>
<text x="932.4" y="656.2" textLength="10.0" lengthAdjust="spacingAndGlyphs">1</text>
<text x="932.4" y="620.7" textLength="10.0" lengthAdjust="spacingAndGlyphs">2</text>
<text x="932.4" y="585.1" textLength="10.0" lengthAdjust="spacingAndGlyphs">5</text>
<text x="932.4" y="549.5" textLength="21.0" lengthAdjust="spacingAndGlyphs">10</text>
<text x="932.4" y="514.0" textLength="21.0" lengthAdjust="spacingAndGlyphs">15</text>
<text x="932.4" y="478.4" textLength="21.0" lengthAdjust="spacingAndGlyphs">20</text>
<text x="932.4" y="442.9" textLength="21.0" lengthAdjust="spacingAndGlyphs">25</text>
<text x="932.4" y="407.3" textLength="21.0" lengthAdjust="spacingAndGlyphs">30</text>
<text x="932.4" y="371.7" textLength="21.0" lengthAdjust="spacingAndGlyphs">35</text>
<text x="932.4" y="336.2" textLength="21.0" lengthAdjust="spacingAndGlyphs">40</text>
<text x="932.4" y="300.6" textLength="21.0" lengthAdjust="spacingAndGlyphs">50</text>
<text x="932.4" y="265.1" textLength="21.0" lengthAdjust="spacingAndGlyphs">60</text>
<text x="932.4" y="229.5" textLength="21.0" lengthAdjust="spacingAndGlyphs">70</text>
<text x="932.4" y="193.9" textLength="21.0" lengthAdjust="spacingAndGlyphs">80</text>
<text x="932.4" y="158.4" textLength="21.0" lengthAdjust="spacingAndGlyphs">90</text>
<text x="932.4" y="122.8" textLength="31.0" lengthAdjust="spacingAndGlyphs">100</text>
</g>
</svg>
</body>
</html>
